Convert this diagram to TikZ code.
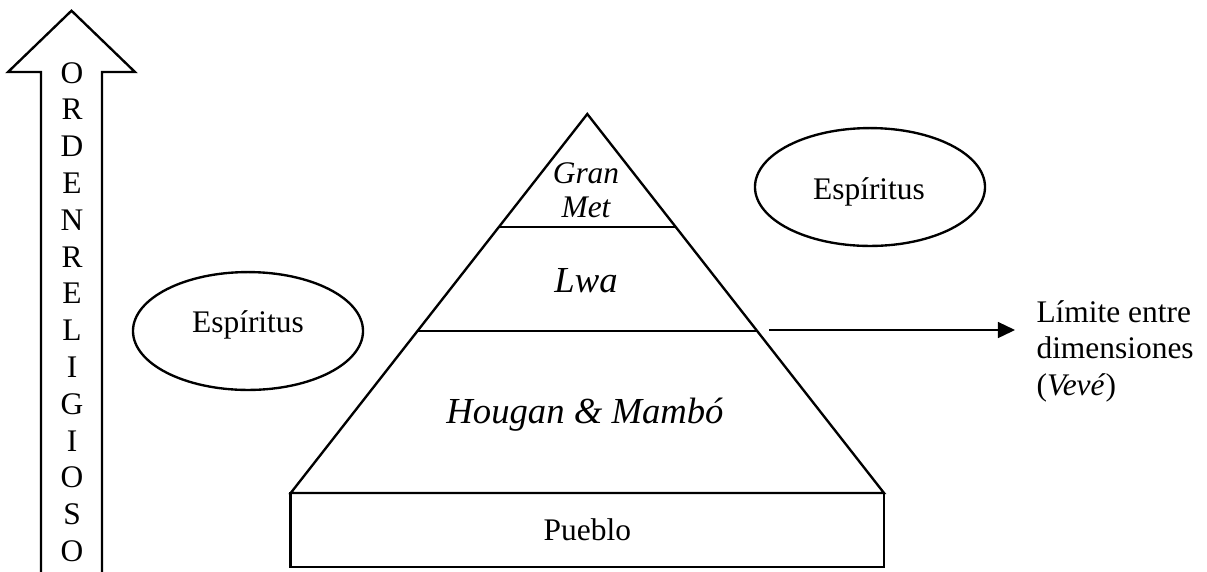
\documentclass[tikz,border=0pt]{standalone}
\usepackage{fontspec}
\setmainfont{Liberation Serif}
\usetikzlibrary{arrows.meta,shapes.geometric,calc}
\begin{document}
\begin{tikzpicture}[x=0.3817pt,y=-0.3817pt,
  shapeline/.style={line width=0.9pt, line join=miter},
  txt/.style={inner sep=0pt, anchor=base, font=\fontsize{12}{13.8}\selectfont},
  ittxt/.style={inner sep=0pt, anchor=base, font=\fontsize{12}{13.8}\selectfont\itshape},
  bigtxt/.style={inner sep=0pt, anchor=base, font=\fontsize{14}{16}\selectfont\itshape},
  sidetxt/.style={inner sep=0pt, anchor=base west, font=\fontsize{12}{13.8}\selectfont},
  spirit/.style={shapeline, draw, ellipse, inner sep=0pt, minimum width=87.8pt, minimum height=45pt},
  conn/.style={line width=0.55pt, -{Triangle[length=6.5pt,width=6.1pt]}}
]
\useasboundingbox (0,0) rectangle (1207,571);

% big upward arrow
\draw[shapeline] (41,572) -- (41,72) -- (8,72) -- (71.5,10.7) -- (135,72) -- (102,72) -- (102,572);
\foreach \l [count=\i from 0] in {O,R,D,E,N,R,E,L,I,G,I,O,S,O}
  \node[txt] (ord\i) at (72, 83+36.8*\i) {\l};

% pyramid
\coordinate (apex) at (587.3,114);
\coordinate (bl) at (290.7,493);
\coordinate (br) at (884,493);
\draw[shapeline] (apex) -- (bl) -- (br) -- cycle;
\draw[shapeline] ($(apex)!0.2982!(bl)$) coordinate (g1) -- ($(apex)!0.2982!(br)$) coordinate (g2);
\draw[shapeline] ($(apex)!0.5726!(bl)$) coordinate (w1) -- ($(apex)!0.5726!(br)$) coordinate (w2);

\node[ittxt] (gran) at (586,183) {Gran};
\node[ittxt] (met) at (586,217) {Met};
\node[bigtxt] (lwa) at (586,292) {Lwa};
\node[bigtxt] (hougan) at (585,423) {Hougan \& Mambó};

% base box
\node[shapeline, draw, inner sep=0pt, minimum width=226.5pt, minimum height=28.2pt,
  font=\fontsize{12}{13.8}\selectfont] (pueblo) at (587.35,529.85) {Pueblo};

% spirits
\node[spirit] (espL) at (248,331) {};
\node[txt] (espLt) at (248,332) {Espíritus};
\node[spirit] (espR) at (870,187) {};
\node[txt] (espRt) at (869,199) {Espíritus};

% limit arrow and label
\coordinate (limstart) at (769,330);
\coordinate (limend) at (1015,330);
\draw[conn] (limstart) -- (limend);
\node[sidetxt] (lim1) at (1036,322) {Límite entre};
\node[sidetxt] (lim2) at (1036,358) {dimensiones};
\node[sidetxt] (lim3) at (1036,395) {(\textit{Vevé})};
\end{tikzpicture}
\end{document}
